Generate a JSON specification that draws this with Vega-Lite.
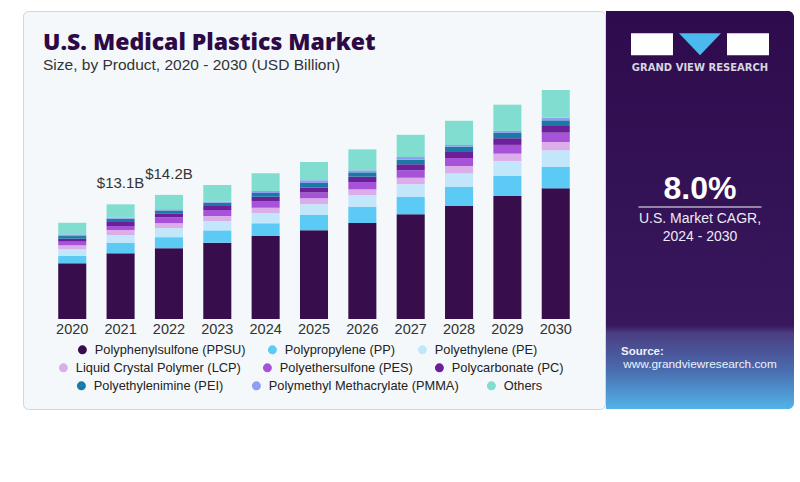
{
  "$schema": "https://vega.github.io/schema/vega-lite/v6.json",
  "background": "#ffffff",
  "padding": {"left": 22, "top": 10, "right": 8, "bottom": 74},
  "spacing": 0,
  "config": {"view": {"stroke": null}, "font": "Liberation Sans"},
  "datasets": {
    "market": [
      {"year": "2020", "Polyphenylsulfone (PPSU)": 6.37, "Polypropylene (PP)": 0.84, "Polyethylene (PE)": 0.76, "Liquid Crystal Polymer (LCP)": 0.46, "Polyethersulfone (PES)": 0.42, "Polycarbonate (PC)": 0.34, "Polyethylenimine (PEI)": 0.30, "Polymethyl Methacrylate (PMMA)": 0.19, "Others": 1.33},
      {"year": "2021", "Polyphenylsulfone (PPSU)": 7.51, "Polypropylene (PP)": 1.22, "Polyethylene (PE)": 0.88, "Liquid Crystal Polymer (LCP)": 0.57, "Polyethersulfone (PES)": 0.46, "Polycarbonate (PC)": 0.46, "Polyethylenimine (PEI)": 0.38, "Polymethyl Methacrylate (PMMA)": 0.11, "Others": 1.53},
      {"year": "2022", "Polyphenylsulfone (PPSU)": 8.10, "Polypropylene (PP)": 1.26, "Polyethylene (PE)": 1.03, "Liquid Crystal Polymer (LCP)": 0.57, "Polyethersulfone (PES)": 0.69, "Polycarbonate (PC)": 0.38, "Polyethylenimine (PEI)": 0.38, "Polymethyl Methacrylate (PMMA)": 0.15, "Others": 1.64},
      {"year": "2023", "Polyphenylsulfone (PPSU)": 8.73, "Polypropylene (PP)": 1.41, "Polyethylene (PE)": 1.07, "Liquid Crystal Polymer (LCP)": 0.57, "Polyethersulfone (PES)": 0.69, "Polycarbonate (PC)": 0.46, "Polyethylenimine (PEI)": 0.38, "Polymethyl Methacrylate (PMMA)": 0.11, "Others": 1.91},
      {"year": "2024", "Polyphenylsulfone (PPSU)": 9.50, "Polypropylene (PP)": 1.45, "Polyethylene (PE)": 1.14, "Liquid Crystal Polymer (LCP)": 0.65, "Polyethersulfone (PES)": 0.69, "Polycarbonate (PC)": 0.57, "Polyethylenimine (PEI)": 0.42, "Polymethyl Methacrylate (PMMA)": 0.23, "Others": 2.02},
      {"year": "2025", "Polyphenylsulfone (PPSU)": 10.15, "Polypropylene (PP)": 1.75, "Polyethylene (PE)": 1.22, "Liquid Crystal Polymer (LCP)": 0.69, "Polyethersulfone (PES)": 0.65, "Polycarbonate (PC)": 0.57, "Polyethylenimine (PEI)": 0.53, "Polymethyl Methacrylate (PMMA)": 0.30, "Others": 2.10},
      {"year": "2026", "Polyphenylsulfone (PPSU)": 10.98, "Polypropylene (PP)": 1.83, "Polyethylene (PE)": 1.37, "Liquid Crystal Polymer (LCP)": 0.65, "Polyethersulfone (PES)": 0.84, "Polycarbonate (PC)": 0.61, "Polyethylenimine (PEI)": 0.50, "Polymethyl Methacrylate (PMMA)": 0.23, "Others": 2.40},
      {"year": "2027", "Polyphenylsulfone (PPSU)": 11.98, "Polypropylene (PP)": 1.98, "Polyethylene (PE)": 1.45, "Liquid Crystal Polymer (LCP)": 0.76, "Polyethersulfone (PES)": 0.84, "Polycarbonate (PC)": 0.69, "Polyethylenimine (PEI)": 0.53, "Polymethyl Methacrylate (PMMA)": 0.30, "Others": 2.55},
      {"year": "2028", "Polyphenylsulfone (PPSU)": 12.93, "Polypropylene (PP)": 2.17, "Polyethylene (PE)": 1.56, "Liquid Crystal Polymer (LCP)": 0.84, "Polyethersulfone (PES)": 0.92, "Polycarbonate (PC)": 0.69, "Polyethylenimine (PEI)": 0.61, "Polymethyl Methacrylate (PMMA)": 0.19, "Others": 2.78},
      {"year": "2029", "Polyphenylsulfone (PPSU)": 14.07, "Polypropylene (PP)": 2.29, "Polyethylene (PE)": 1.72, "Liquid Crystal Polymer (LCP)": 0.84, "Polyethersulfone (PES)": 1.00, "Polycarbonate (PC)": 0.76, "Polyethylenimine (PEI)": 0.61, "Polymethyl Methacrylate (PMMA)": 0.23, "Others": 3.00},
      {"year": "2030", "Polyphenylsulfone (PPSU)": 14.95, "Polypropylene (PP)": 2.48, "Polyethylene (PE)": 1.87, "Liquid Crystal Polymer (LCP)": 0.95, "Polyethersulfone (PES)": 1.07, "Polycarbonate (PC)": 0.76, "Polyethylenimine (PEI)": 0.65, "Polymethyl Methacrylate (PMMA)": 0.30, "Others": 3.17}
    ],
    "totals": [
      {"year": "2021", "total": 13.1, "label": "$13.1B"},
      {"year": "2022", "total": 14.2, "label": "$14.2B"}
    ],
    "side": [
      {"slot": "logo", "part": "L"},
      {"slot": "logo", "part": "C"},
      {"slot": "logo", "part": "R"},
      {"slot": "brand", "text": "GRAND VIEW RESEARCH"},
      {"slot": "cagr", "text": "8.0%"},
      {"slot": "rule", "text": ""},
      {"slot": "line1", "text": "U.S. Market CAGR,"},
      {"slot": "line2", "text": "2024 - 2030"},
      {"slot": "src1", "text": "Source:"},
      {"slot": "src2", "text": "www.grandviewresearch.com"}
    ]
  },
  "hconcat": [
    {
      "width": 582,
      "height": 398,
      "view": {"fill": "#f4f8fb", "stroke": "#d3d7dc", "strokeWidth": 1, "cornerRadius": 5},
      "title": {
        "text": "U.S. Medical Plastics Market",
        "subtitle": "Size, by Product, 2020 - 2030 (USD Billion)",
        "anchor": "start",
        "frame": "group",
        "orient": "top",
        "offset": -62,
        "dx": 20,
        "font": "Open Sans",
        "fontWeight": 800,
        "fontSize": 23,
        "color": "#2d0a45",
        "subtitleFont": "Liberation Sans",
        "subtitleFontSize": 15.5,
        "subtitleColor": "#333333",
        "subtitlePadding": 3
      },
      "layer": [
        {
          "data": {"name": "market"},
          "transform": [
            {"fold": ["Polyphenylsulfone (PPSU)", "Polypropylene (PP)", "Polyethylene (PE)", "Liquid Crystal Polymer (LCP)", "Polyethersulfone (PES)", "Polycarbonate (PC)", "Polyethylenimine (PEI)", "Polymethyl Methacrylate (PMMA)", "Others"], "as": ["product", "value"]},
            {"window": [{"op": "row_number", "as": "rank"}], "groupby": ["year"]}
          ],
          "mark": {"type": "bar"},
          "encoding": {
            "x": {
              "field": "year", "type": "ordinal",
              "scale": {"paddingInner": 0.42, "paddingOuter": 0.7285},
              "axis": {"title": null, "orient": "bottom", "offset": -90, "domain": false, "ticks": false, "grid": false, "labelPadding": 3, "labelFontSize": 14.5, "labelColor": "#333333", "labelFont": "Liberation Sans", "labelAngle": 0}
            },
            "y": {
              "field": "value", "type": "quantitative", "stack": "zero",
              "scale": {"domain": [-10.3, 35.24], "nice": false, "zero": false},
              "axis": null
            },
            "order": {"field": "rank", "type": "quantitative", "sort": "ascending"},
            "color": {
              "field": "product", "type": "nominal",
              "sort": ["Polyphenylsulfone (PPSU)", "Polypropylene (PP)", "Polyethylene (PE)", "Liquid Crystal Polymer (LCP)", "Polyethersulfone (PES)", "Polycarbonate (PC)", "Polyethylenimine (PEI)", "Polymethyl Methacrylate (PMMA)", "Others"],
              "scale": {
                "domain": ["Polyphenylsulfone (PPSU)", "Polypropylene (PP)", "Polyethylene (PE)", "Liquid Crystal Polymer (LCP)", "Polyethersulfone (PES)", "Polycarbonate (PC)", "Polyethylenimine (PEI)", "Polymethyl Methacrylate (PMMA)", "Others"],
                "range": ["#370d4b", "#5bcaf5", "#c2e7fa", "#dbaeea", "#a652d9", "#6b1f98", "#1b7aa5", "#8f9df3", "#80ddd0"]
              },
              "legend": {
                "values": ["Polyphenylsulfone (PPSU)", "Polypropylene (PP)", "Polyethylene (PE)"],
                "orient": "none", "legendX": 53, "legendY": 332,
                "direction": "horizontal", "columns": 3,
                "title": null, "symbolType": "circle", "symbolSize": 80, "symbolStrokeWidth": 0,
                "labelFontSize": 12.8, "labelFont": "Liberation Sans", "labelColor": "#222222",
                "labelOffset": 6, "columnPadding": 20, "labelLimit": 300
              }
            }
          }
        },
        {
          "data": {"values": []},
          "mark": {"type": "point", "filled": true, "opacity": 1},
          "encoding": {
            "fill": {
              "field": "row2", "type": "nominal",
              "scale": {
                "domain": ["Liquid Crystal Polymer (LCP)", "Polyethersulfone (PES)", "Polycarbonate (PC)"],
                "range": ["#dbaeea", "#a652d9", "#6b1f98"]
              },
              "legend": {
                "orient": "none", "legendX": 34, "legendY": 350,
                "direction": "horizontal", "columns": 3,
                "title": null, "symbolType": "circle", "symbolSize": 80, "symbolStrokeWidth": 0, "symbolOpacity": 1,
                "labelFontSize": 12.8, "labelFont": "Liberation Sans", "labelColor": "#222222",
                "labelOffset": 6, "columnPadding": 20, "labelLimit": 300
              }
            }
          }
        },
        {
          "data": {"values": []},
          "mark": {"type": "point", "filled": false, "opacity": 1},
          "encoding": {
            "stroke": {
              "field": "row3", "type": "nominal",
              "scale": {
                "domain": ["Polyethylenimine (PEI)", "Polymethyl Methacrylate (PMMA)", "Others"],
                "range": ["#1b7aa5", "#8f9df3", "#80ddd0"]
              },
              "legend": {
                "orient": "none", "legendX": 52, "legendY": 368,
                "direction": "horizontal", "columns": 3,
                "title": null, "symbolType": "circle", "symbolSize": 18, "symbolStrokeWidth": 4.8, "symbolOpacity": 1,
                "labelFontSize": 12.8, "labelFont": "Liberation Sans", "labelColor": "#222222",
                "labelOffset": 6, "columnPadding": 20, "labelLimit": 300
              }
            }
          }
        },
        {
          "data": {"name": "totals"},
          "mark": {"type": "text", "baseline": "alphabetic", "dy": -16, "fontSize": 15, "font": "Liberation Sans", "color": "#333333"},
          "encoding": {
            "x": {"field": "year", "type": "ordinal"},
            "y": {"field": "total", "type": "quantitative"},
            "text": {"field": "label", "type": "nominal"}
          }
        }
      ]
    },
    {
      "width": 188,
      "height": 398,
      "view": {"stroke": null},
      "layer": [
        {
          "data": {"values": [{"panel": "side"}]},
          "mark": {
            "type": "rect",
            "cornerRadiusTopRight": 6,
            "cornerRadiusBottomRight": 6,
            "color": {
              "gradient": "linear", "x1": 0, "y1": 0, "x2": 0, "y2": 1,
              "stops": [
                {"offset": 0, "color": "#2e0b4c"},
                {"offset": 0.79, "color": "#38175d"},
                {"offset": 0.81, "color": "#4a3f82"},
                {"offset": 0.9, "color": "#4a6aae"},
                {"offset": 1, "color": "#52b4e8"}
              ]
            }
          },
          "encoding": {}
        },
        {
          "data": {"name": "side"},
          "transform": [{"filter": "datum.part === 'L' || datum.part === 'R'"}],
          "mark": {"type": "point", "shape": "M-1,-0.524H1V0.524H-1Z", "filled": true, "color": "#ffffff", "size": 1764, "opacity": 1, "strokeWidth": 0},
          "encoding": {
            "x": {"field": "part", "type": "nominal", "scale": {"type": "point", "domain": ["L", "C", "R"], "padding": 0.958}, "axis": null},
            "y": {"field": "slot", "type": "ordinal", "axis": null, "scale": {"type": "point", "padding": 0.5, "domain": ["_0","_1","_2","_3","_4","logo","_6","_7","_8","brand","_10","_11","_12","_13","_14","_15","_16","_17","_18","_19","_20","_21","_22","_23","_24","_25","_26","_27","_28","cagr","_30","_31","rule","_33","line1","_35","_36","line2","_38","_39","_40","_41","_42","_43","_44","_45","_46","_47","_48","_49","_50","_51","_52","_53","_54","_55","src1","_57","src2","_59","_60","_61","_62","_63","_64","_65"]}}
          }
        },
        {
          "data": {"name": "side"},
          "transform": [{"filter": "datum.part === 'C'"}],
          "mark": {"type": "point", "shape": "M-1,-0.524H1L0,0.524Z", "filled": true, "color": "#4bb8ee", "size": 1764, "opacity": 1, "strokeWidth": 0},
          "encoding": {
            "x": {"field": "part", "type": "nominal", "scale": {"type": "point", "domain": ["L", "C", "R"], "padding": 0.958}, "axis": null},
            "y": {"field": "slot", "type": "ordinal", "axis": null, "scale": {"type": "point", "padding": 0.5, "domain": ["_0","_1","_2","_3","_4","logo","_6","_7","_8","brand","_10","_11","_12","_13","_14","_15","_16","_17","_18","_19","_20","_21","_22","_23","_24","_25","_26","_27","_28","cagr","_30","_31","rule","_33","line1","_35","_36","line2","_38","_39","_40","_41","_42","_43","_44","_45","_46","_47","_48","_49","_50","_51","_52","_53","_54","_55","src1","_57","src2","_59","_60","_61","_62","_63","_64","_65"]}}
          }
        },
        {
          "data": {"name": "side"},
          "transform": [{"filter": "datum.slot === 'rule'"}],
          "mark": {"type": "point", "shape": "M-1,0H1", "filled": false, "stroke": "#b4aac6", "strokeWidth": 1.5, "size": 15129, "opacity": 1},
          "encoding": {
            "y": {"field": "slot", "type": "ordinal", "axis": null, "scale": {"type": "point", "padding": 0.5, "domain": ["_0","_1","_2","_3","_4","logo","_6","_7","_8","brand","_10","_11","_12","_13","_14","_15","_16","_17","_18","_19","_20","_21","_22","_23","_24","_25","_26","_27","_28","cagr","_30","_31","rule","_33","line1","_35","_36","line2","_38","_39","_40","_41","_42","_43","_44","_45","_46","_47","_48","_49","_50","_51","_52","_53","_54","_55","src1","_57","src2","_59","_60","_61","_62","_63","_64","_65"]}}
          }
        },
        {
          "data": {"name": "side"},
          "transform": [{"filter": "datum.slot === 'brand'"}],
          "mark": {"type": "text", "font": "DejaVu Sans", "fontWeight": "bold", "fontSize": 10, "color": "#d8d4e2", "baseline": "middle", "align": "center"},
          "encoding": {
            "y": {"field": "slot", "type": "ordinal", "axis": null, "scale": {"type": "point", "padding": 0.5, "domain": ["_0","_1","_2","_3","_4","logo","_6","_7","_8","brand","_10","_11","_12","_13","_14","_15","_16","_17","_18","_19","_20","_21","_22","_23","_24","_25","_26","_27","_28","cagr","_30","_31","rule","_33","line1","_35","_36","line2","_38","_39","_40","_41","_42","_43","_44","_45","_46","_47","_48","_49","_50","_51","_52","_53","_54","_55","src1","_57","src2","_59","_60","_61","_62","_63","_64","_65"]}},
            "text": {"field": "text", "type": "nominal"}
          }
        },
        {
          "data": {"name": "side"},
          "transform": [{"filter": "datum.slot === 'cagr'"}],
          "mark": {"type": "text", "font": "Liberation Sans", "fontWeight": "bold", "fontSize": 32, "color": "#ffffff", "baseline": "middle", "align": "center"},
          "encoding": {
            "y": {"field": "slot", "type": "ordinal", "axis": null, "scale": {"type": "point", "padding": 0.5, "domain": ["_0","_1","_2","_3","_4","logo","_6","_7","_8","brand","_10","_11","_12","_13","_14","_15","_16","_17","_18","_19","_20","_21","_22","_23","_24","_25","_26","_27","_28","cagr","_30","_31","rule","_33","line1","_35","_36","line2","_38","_39","_40","_41","_42","_43","_44","_45","_46","_47","_48","_49","_50","_51","_52","_53","_54","_55","src1","_57","src2","_59","_60","_61","_62","_63","_64","_65"]}},
            "text": {"field": "text", "type": "nominal"}
          }
        },
        {
          "data": {"name": "side"},
          "transform": [{"filter": "datum.slot === 'line1' || datum.slot === 'line2'"}],
          "mark": {"type": "text", "font": "Liberation Sans", "fontSize": 14, "color": "#eeeaf3", "baseline": "middle", "align": "center"},
          "encoding": {
            "y": {"field": "slot", "type": "ordinal", "axis": null, "scale": {"type": "point", "padding": 0.5, "domain": ["_0","_1","_2","_3","_4","logo","_6","_7","_8","brand","_10","_11","_12","_13","_14","_15","_16","_17","_18","_19","_20","_21","_22","_23","_24","_25","_26","_27","_28","cagr","_30","_31","rule","_33","line1","_35","_36","line2","_38","_39","_40","_41","_42","_43","_44","_45","_46","_47","_48","_49","_50","_51","_52","_53","_54","_55","src1","_57","src2","_59","_60","_61","_62","_63","_64","_65"]}},
            "text": {"field": "text", "type": "nominal"}
          }
        },
        {
          "data": {"name": "side"},
          "transform": [{"filter": "datum.slot === 'src1'"}],
          "mark": {"type": "text", "font": "Liberation Sans", "fontWeight": "bold", "fontSize": 11.5, "color": "#eef2fa", "baseline": "middle", "align": "left", "dx": -79},
          "encoding": {
            "y": {"field": "slot", "type": "ordinal", "axis": null, "scale": {"type": "point", "padding": 0.5, "domain": ["_0","_1","_2","_3","_4","logo","_6","_7","_8","brand","_10","_11","_12","_13","_14","_15","_16","_17","_18","_19","_20","_21","_22","_23","_24","_25","_26","_27","_28","cagr","_30","_31","rule","_33","line1","_35","_36","line2","_38","_39","_40","_41","_42","_43","_44","_45","_46","_47","_48","_49","_50","_51","_52","_53","_54","_55","src1","_57","src2","_59","_60","_61","_62","_63","_64","_65"]}},
            "text": {"field": "text", "type": "nominal"}
          }
        },
        {
          "data": {"name": "side"},
          "transform": [{"filter": "datum.slot === 'src2'"}],
          "mark": {"type": "text", "font": "Liberation Sans", "fontSize": 11.8, "color": "#eef2fa", "baseline": "middle", "align": "center"},
          "encoding": {
            "y": {"field": "slot", "type": "ordinal", "axis": null, "scale": {"type": "point", "padding": 0.5, "domain": ["_0","_1","_2","_3","_4","logo","_6","_7","_8","brand","_10","_11","_12","_13","_14","_15","_16","_17","_18","_19","_20","_21","_22","_23","_24","_25","_26","_27","_28","cagr","_30","_31","rule","_33","line1","_35","_36","line2","_38","_39","_40","_41","_42","_43","_44","_45","_46","_47","_48","_49","_50","_51","_52","_53","_54","_55","src1","_57","src2","_59","_60","_61","_62","_63","_64","_65"]}},
            "text": {"field": "text", "type": "nominal"}
          }
        }
      ]
    }
  ]
}
